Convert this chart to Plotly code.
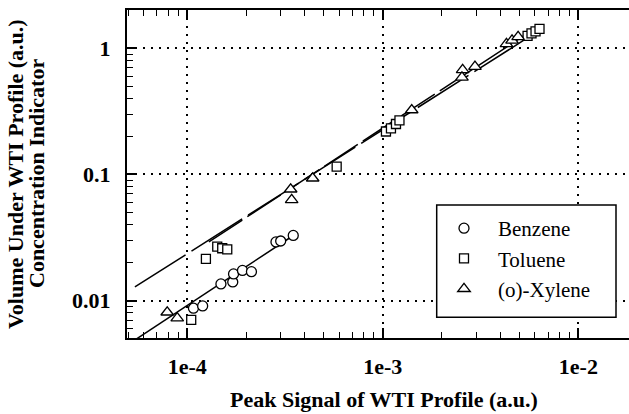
import plotly.graph_objects as go

# ---- data ----
benzene_x = [1.076e-4, 1.199e-4, 1.487e-4, 1.709e-4, 1.725e-4, 1.916e-4, 2.13e-4, 2.843e-4, 3.005e-4, 3.485e-4]
benzene_y = [0.00871, 0.00908, 0.01356, 0.01406, 0.01628, 0.01735, 0.01698, 0.0292, 0.0297, 0.03286]

toluene_x = [1.048e-4, 1.246e-4, 1.424e-4, 1.51e-4, 1.602e-4, 5.81e-4, 1.038e-3, 1.101e-3,
             1.168e-3, 1.217e-3, 5.50e-3, 5.76e-3, 6.04e-3, 6.33e-3]
toluene_y = [0.00703, 0.0214, 0.0268, 0.026, 0.0255, 0.1153, 0.219, 0.2315,
             0.251, 0.268, 1.252, 1.31, 1.358, 1.422]

xylene_x = [7.9e-5, 8.89e-5, 3.38e-4, 3.42e-4, 4.38e-4, 1.406e-3, 2.56e-3, 2.54e-3,
            2.96e-3, 4.29e-3, 4.58e-3, 4.92e-3]
xylene_y = [0.00809, 0.00726, 0.0763, 0.0628, 0.0933, 0.324, 0.673, 0.587,
            0.715, 1.082, 1.153, 1.229]

# fitted lines (end points)
benzene_fit_x = [5.5e-5, 3.63e-4]
benzene_fit_y = [0.00497, 0.0342]
toluene_fit_x = [5.4e-5, 6.37e-3]
toluene_fit_y = [0.01284, 1.396]
xylene_fit_x = [1.29e-4, 5.34e-3]
xylene_fit_y = [0.0292, 1.274]

x_tickvals = [1e-4, 1e-3, 1e-2]
x_ticktext = ["1e-4", "1e-3", "1e-2"]
y_tickvals = [0.01, 0.1, 1]
y_ticktext = ["0.01", "0.1", "1"]

series_names = ["Benzene", "Toluene", "(o)-Xylene"]

SERIF = "Liberation Serif"

# minor tick positions (2..9 in every decade)
x_minor = [m * 10.0 ** e for e in (-5, -4, -3, -2) for m in range(2, 10)]
y_minor = [m * 10.0 ** e for e in (-3, -2, -1, 0) for m in range(2, 10)]

fig = go.Figure()

# fit lines
fig.add_trace(go.Scatter(x=benzene_fit_x, y=benzene_fit_y, mode="lines",
                         line=dict(color="black", width=1.5), showlegend=False, hoverinfo="skip"))
fig.add_trace(go.Scatter(x=toluene_fit_x, y=toluene_fit_y, mode="lines",
                         line=dict(color="black", width=1.5, dash="60px,7px"),
                         showlegend=False, hoverinfo="skip"))
fig.add_trace(go.Scatter(x=xylene_fit_x, y=xylene_fit_y, mode="lines",
                         line=dict(color="black", width=1.5, dash="40px,6px"),
                         showlegend=False, hoverinfo="skip"))

marker_line = dict(color="black", width=1.3)
fig.add_trace(go.Scatter(x=benzene_x, y=benzene_y, mode="markers", name=series_names[0],
                         marker=dict(symbol="circle", size=10, color="white", line=marker_line)))
fig.add_trace(go.Scatter(x=toluene_x, y=toluene_y, mode="markers", name=series_names[1],
                         marker=dict(symbol="square", size=9, color="white", line=marker_line)))
fig.add_trace(go.Scatter(x=xylene_x, y=xylene_y, mode="markers", name=series_names[2],
                         marker=dict(symbol="triangle-up", size=11, color="white", line=marker_line)))

tickfont = dict(family=SERIF, size=22, color="black", weight="bold")

fig.update_xaxes(
    type="log", range=[-4.308, -1.741], automargin=False,
    tickmode="array", tickvals=x_tickvals, ticktext=x_ticktext,
    tickfont=tickfont, ticks="inside", ticklen=10, tickwidth=1.5, tickcolor="black",
    ticklabelstandoff=8,
    showline=True, linecolor="black", linewidth=2, mirror="allticks",
    showgrid=True, gridcolor="black", gridwidth=2, griddash="2px,6px",
    minor=dict(tickmode="array", tickvals=x_minor, ticks="inside", ticklen=6,
               tickwidth=1.2, tickcolor="black", showgrid=False),
    zeroline=False,
)
fig.update_yaxes(
    type="log", range=[-2.296, 0.303], automargin=False,
    tickmode="array", tickvals=y_tickvals, ticktext=y_ticktext,
    tickfont=tickfont, ticks="inside", ticklen=10, tickwidth=1.5, tickcolor="black",
    ticklabelstandoff=10,
    showline=True, linecolor="black", linewidth=2, mirror=False,
    showgrid=True, gridcolor="black", gridwidth=2, griddash="2px,6px",
    minor=dict(tickmode="array", tickvals=y_minor, ticks="inside", ticklen=6,
               tickwidth=1.2, tickcolor="black", showgrid=False),
    zeroline=False,
)

L, R, T, B = 127, 0, 10, 76
W, H = 629, 414
pw, ph = W - L - R, H - T - B


def px_x(p):
    return (p - L) / pw


def px_y(p):
    return (H - B - p) / ph


title_font = dict(family=SERIF, size=22, color="black", weight="bold")
fig.add_annotation(text="Peak Signal of WTI Profile (a.u.)", xref="paper", yref="paper",
                   x=px_x(384), y=px_y(414), showarrow=False,
                   xanchor="center", yanchor="bottom", font=title_font)
fig.add_annotation(text="Volume Under WTI Profile (a.u.)", xref="paper", yref="paper",
                   x=px_x(15), y=0.5, showarrow=False, textangle=-90,
                   xanchor="center", yanchor="middle", font=title_font)
fig.add_annotation(text="Concentration Indicator", xref="paper", yref="paper",
                   x=px_x(36), y=0.5, showarrow=False, textangle=-90,
                   xanchor="center", yanchor="middle", font=title_font)

# legend frame
fig.add_shape(type="rect", xref="paper", yref="paper",
              x0=px_x(436.7), x1=px_x(616), y0=px_y(317.3), y1=px_y(205),
              line=dict(color="black", width=1.5), fillcolor="white", layer="above")

fig.update_layout(
    width=W, height=H,
    margin=dict(l=L, r=R, t=T, b=B, autoexpand=False),
    paper_bgcolor="white", plot_bgcolor="white",
    showlegend=True,
    legend=dict(x=px_x(430), y=px_y(208), xanchor="left", yanchor="top",
                borderwidth=0, bgcolor="rgba(0,0,0,0)",
                font=dict(family=SERIF, size=21, color="black"),
                itemwidth=58, tracegroupgap=0),
)

fig.write_html("out.html", config={"displayModeBar": False},
               post_script="document.body.style.margin='0';document.body.style.padding='0';")
